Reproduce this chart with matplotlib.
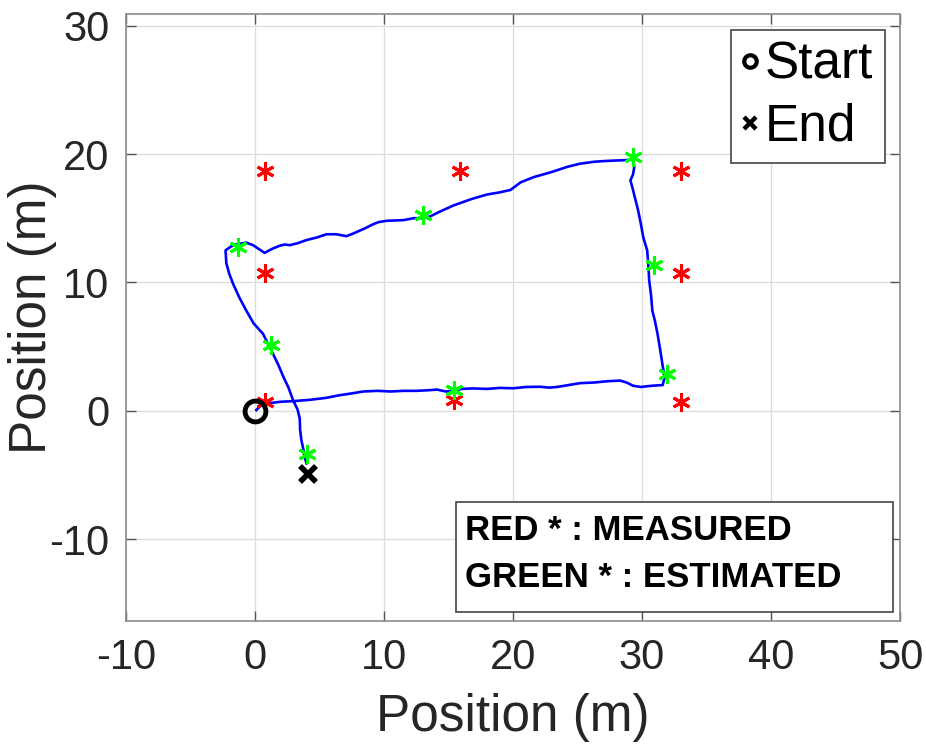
import matplotlib
matplotlib.use('Agg')
import matplotlib.pyplot as plt
from matplotlib.lines import Line2D
from matplotlib.patches import Rectangle

plt.rcParams['font.family'] = ['Liberation Sans', 'DejaVu Sans']
plt.rcParams['axes.unicode_minus'] = False

# trajectory (estimated path)
path_x = [0.1, 0.5, 1.2, 2.0, 3.0, 4.25, 5.5, 6.5, 7.5, 8.4, 9.5, 10.5, 11.5, 12.5, 13.5, 14.1,
          14.8, 15.4, 16.0, 16.9, 18.0, 19.0, 20.0, 21.0, 22.1, 22.8, 23.4, 24.3, 25.2, 26.3,
          27.3, 28.3, 28.8, 29.3, 29.9, 30.8, 31.6, 31.75, 31.6, 31.4, 31.2, 31.0, 30.8, 30.7,
          30.55, 30.5, 30.4, 30.1, 29.9, 29.7, 29.45, 29.25, 29.1, 29.3, 29.4, 29.3, 28.1, 27.0,
          26.3, 25.2, 24.2, 23.0, 21.6, 20.6, 19.8, 18.9, 18.0, 16.8, 15.4, 14.3, 13.6, 13.0,
          12.3, 11.5, 10.2, 9.6, 9.2, 8.5, 7.6, 7.1, 6.3, 5.55, 4.8, 4.0, 3.3, 2.7, 2.3, 1.9,
          1.3, 0.75, 0.3, -0.15, -0.67, -1.2, -1.7, -2.28, -2.22, -2.0, -1.7, -1.2, -0.67, -0.1,
          0.62, 1.27, 1.8, 2.2, 2.6, 2.95, 3.3, 3.47, 3.5, 3.6, 3.75, 3.85, 4.0]
path_y = [0.05, 0.45, 0.6, 0.7, 0.75, 0.85, 1.0, 1.2, 1.35, 1.5, 1.55, 1.5, 1.55, 1.55, 1.6, 1.65,
          1.5, 1.55, 1.7, 1.74, 1.7, 1.78, 1.75, 1.85, 1.87, 1.8, 1.85, 2.0, 2.15, 2.2,
          2.3, 2.35, 2.2, 1.95, 1.85, 1.95, 2.0, 2.6, 3.5, 4.8, 6.0, 7.0, 7.8, 9.0,
          10.2, 11.2, 12.5, 13.5, 14.6, 15.6, 16.6, 17.4, 17.95, 18.4, 19.0, 19.55, 19.5, 19.45,
          19.4, 19.25, 19.0, 18.6, 18.2, 17.8, 17.2, 17.0, 16.85, 16.5, 16.0, 15.5, 15.15, 15.0,
          15.0, 14.85, 14.8, 14.7, 14.55, 14.2, 13.8, 13.6, 13.75, 13.75, 13.5, 13.3, 13.05, 12.9, 12.95, 12.85,
          12.6, 12.3, 12.6, 12.9, 13.1, 13.0, 12.9, 12.5, 11.5, 10.7, 9.9, 8.8, 7.8, 6.8,
          6.0, 4.7, 3.6, 2.65, 1.8, 0.83, 0.1, -0.6, -1.5, -2.3, -3.0, -3.6, -4.1]

# measured landmarks (red)
meas_x = [0.8, 15.9, 33.0, 0.8, 33.0, 0.8, 15.4, 33.0]
meas_y = [18.7, 18.7, 18.7, 10.7, 10.7, 0.7, 0.8, 0.7]

# estimated landmarks (green)
est_x = [15.39, 31.97, 30.93, 29.32, 13.05, -1.32, 1.27, 4.07]
est_y = [1.61, 2.86, 11.34, 19.77, 15.23, 12.76, 5.11, -3.37]

start_pt = (0.0, 0.0)
end_pt = (4.12, -4.93)

fig = plt.figure(figsize=(9.26, 7.44), dpi=100)
ax = fig.add_axes([0.136, 0.165, 0.836, 0.816])

ax.plot(path_x, path_y, color='#0000ff', lw=1.9, zorder=3)
ax.plot(meas_x, meas_y, ls='none', marker=(6, 2, 0), ms=13, mew=2.2, color='#ff0000', zorder=4)
ax.plot(est_x, est_y, ls='none', marker=(6, 2, 0), ms=13, mew=2.2, color='#00ff00', zorder=5)
ax.plot(*start_pt, ls='none', marker='o', ms=15, mew=3.5, mfc='none', mec='black', zorder=6)
ax.plot(*end_pt, ls='none', marker='x', ms=12, mew=4, color='black', zorder=6)

ax.set_xlim(-10, 50)
ax.set_ylim(-16.4, 30.9)
ax.set_xticks([-10, 0, 10, 20, 30, 40, 50])
ax.set_yticks([-10, 0, 10, 20, 30])
ax.grid(True, color='#dcdcdc', lw=0.9)
ax.set_axisbelow(True)
ax.tick_params(direction='in', length=7, width=1, top=True, right=True,
               labelsize=30, labelcolor='#262626', color='#555555', pad=12)
for s in ax.spines.values():
    s.set_color('#8c8c8c')
    s.set_linewidth(1.2)

ax.set_xlabel('Position (m)', fontsize=37, color='#262626', va='center')
ax.set_ylabel('Position (m)', fontsize=37, color='#262626', va='center')
ax.xaxis.set_label_coords(0.5, -0.158)
ax.yaxis.set_label_coords(-0.121, 0.5)

handles = [Line2D([], [], ls='none', marker='o', ms=9, mew=3, mfc='none', mec='black'),
           Line2D([], [], ls='none', marker='x', ms=8, mew=3.2, color='black')]
leg = ax.legend(handles, ['Start', 'End'], loc='upper right', fontsize=37,
                handlelength=0.3, handletextpad=0.15, borderaxespad=0.3,
                labelspacing=0.25, borderpad=0.22, fancybox=False, framealpha=1)
leg.get_frame().set_edgecolor('#444444')
leg.get_frame().set_linewidth(1.2)

ax.add_patch(Rectangle((0.426, 0.0153), 0.5646, 0.1812, transform=ax.transAxes,
                       fill=True, facecolor='white', edgecolor='#444444', lw=1.2, zorder=7))
ax.text(0.438, 0.15, 'RED * : MEASURED', transform=ax.transAxes, fontsize=25,
        fontweight='bold', va='center', ha='left', zorder=8)
ax.text(0.438, 0.072, 'GREEN * : ESTIMATED', transform=ax.transAxes, fontsize=25,
        fontweight='bold', va='center', ha='left', zorder=8)

fig.savefig('out.png', dpi=100)
